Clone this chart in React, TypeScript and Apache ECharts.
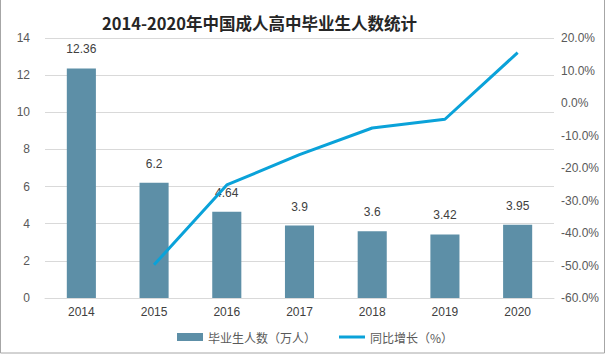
import React, { useEffect, useRef } from "react";
import * as echarts from "echarts";

const categories = ["2014", "2015", "2016", "2017", "2018", "2019", "2020"];
const graduates = [12.36, 6.2, 4.64, 3.9, 3.6, 3.42, 3.95];
const growth = [null, -49.8, -25.2, -15.9, -7.7, -5.0, 15.5];
const leftTicks = [0, 14, 2];
const rightTicks = [-60, 20, 10];

export default function App() {
  const ref = useRef<HTMLDivElement>(null);
  useEffect(() => {
    const chart = echarts.init(ref.current!, null, { renderer: "svg" });
    chart.setOption({
      animation: false,
      backgroundColor: "#ffffff",
      title: {
        text: "2014-2020年中国成人高中毕业生人数统计",
        left: 97,
        top: 10,
        textStyle: {
          fontFamily: "Noto Sans CJK SC",
          fontSize: 16.5,
          fontWeight: "bold",
          color: "#262626",
        },
      },
      legend: {
        bottom: 7,
        left: 172,
        itemGap: 23,
        itemWidth: 26,
        itemHeight: 8,
        textStyle: { fontFamily: "Noto Sans CJK SC", fontSize: 12, color: "#595959" },
        data: [
          { name: "毕业生人数（万人）", icon: "rect" },
          { name: "同比增长（%）", icon: "path://M0,0H26V3H0Z" },
        ],
      },
      grid: { left: 45, right: 52, top: 38, bottom: 57 },
      xAxis: {
        type: "category",
        data: categories,
        axisLine: { lineStyle: { color: "#d9d9d9" } },
        axisTick: { show: false },
        axisLabel: { color: "#404040", fontSize: 12, fontFamily: "Liberation Sans", margin: 8 },
      },
      yAxis: [
        {
          type: "value",
          min: leftTicks[0],
          max: leftTicks[1],
          interval: leftTicks[2],
          axisLine: { show: false },
          axisTick: { show: false },
          splitLine: { lineStyle: { color: "#d9d9d9" } },
          axisLabel: { color: "#595959", fontSize: 12, fontFamily: "Liberation Sans", margin: 15 },
        },
        {
          type: "value",
          min: rightTicks[0],
          max: rightTicks[1],
          interval: rightTicks[2],
          axisLine: { show: false },
          axisTick: { show: false },
          splitLine: { show: false },
          axisLabel: {
            color: "#595959",
            fontSize: 12,
            fontFamily: "Liberation Sans",
            margin: 7,
            formatter: (v: number) => v.toFixed(1) + "%",
          },
        },
      ],
      series: [
        {
          name: "毕业生人数（万人）",
          type: "bar",
          data: graduates,
          barWidth: "40%",
          itemStyle: { color: "#5d8fa7" },
          label: {
            show: true,
            position: "top",
            distance: 13,
            color: "#404040",
            fontSize: 12,
            fontFamily: "Liberation Sans",
          },
        },
        {
          name: "同比增长（%）",
          type: "line",
          yAxisIndex: 1,
          data: growth,
          symbol: "none",
          lineStyle: { color: "#0aa2d9", width: 3 },
          itemStyle: { color: "#0aa2d9" },
        },
      ],
      graphic: [
        {
          type: "rect",
          shape: { x: 0.5, y: -1, width: 604, height: 354 },
          style: { fill: "none", stroke: "#a6a6a6", lineWidth: 1 },
          silent: true,
        },
      ],
    });
    return () => chart.dispose();
  }, []);
  return (
    <div
      ref={ref}
      style={{ position: "absolute", left: 0, top: 0, width: 606, height: 355 }}
    />
  );
}
